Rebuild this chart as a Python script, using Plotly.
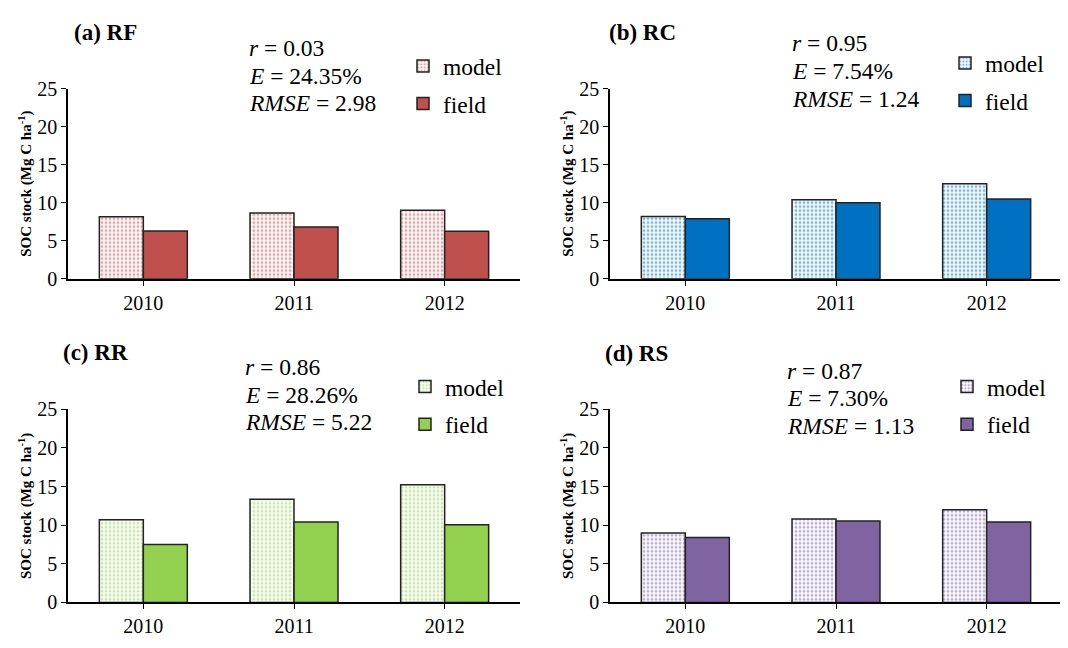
import plotly.graph_objects as go

years = ["2010", "2011", "2012"]

rf_model = [8.15, 8.65, 9.0]
rf_field = [6.3, 6.8, 6.25]
rc_model = [8.2, 10.4, 12.5]
rc_field = [7.9, 10.0, 10.5]
rr_model = [10.7, 13.35, 15.25]
rr_field = [7.5, 10.4, 10.05]
rs_model = [9.0, 10.8, 12.0]
rs_field = [8.4, 10.55, 10.4]

panel_titles = ["(a) RF", "(b) RC", "(c) RR", "(d) RS"]
r_vals = ["0.03", "0.95", "0.86", "0.87"]
e_vals = ["24.35%", "7.54%", "28.26%", "7.30%"]
rmse_vals = ["2.98", "1.24", "5.22", "1.13"]
colors = ["#C0504D", "#0070C0", "#92D050", "#8064A2"]

models = [rf_model, rc_model, rr_model, rs_model]
fields = [rf_field, rc_field, rr_field, rs_field]

SERIF = "Liberation Serif"
W, H = 1068, 648
OFF = 8  # page body margin


def px(x):
    return (x - OFF) / W


def py(y):
    return 1 - (y - OFF) / H


# panel geometry in pixels: (x0, x1, y_top(25), y_bottom(0))
panels = [
    (68, 520, 80, 277),
    (610, 1062, 80, 277),
    (68, 520, 412, 612),
    (610, 1062, 412, 612),
]
title_pos = [(72, 22), (607, 22), (61, 353), (603, 354)]
stats_pos = [(247, 38), (790, 33), (243, 368), (785, 372)]
legend_pos = [(403, 34), (945, 31), (405, 366), (947, 366)]
LINE = 28.7

fig = go.Figure()
layout = dict(
    width=W, height=H,
    paper_bgcolor="white", plot_bgcolor="white",
    margin=dict(l=0, r=0, t=0, b=0),
    barmode="group", bargap=0.416, bargroupgap=0,
    font=dict(family=SERIF, color="black"),
    annotations=[],
)

for i in range(4):
    sfx = "" if i == 0 else str(i + 1)
    xa, ya = "x" + sfx, "y" + sfx
    lg = "legend" + sfx
    col = colors[i]
    fig.add_trace(go.Bar(
        x=years, y=models[i], name="model", xaxis=xa, yaxis=ya, legend=lg,
        legendgroup="m%d" % i,
        marker=dict(color="white", line=dict(color="#222222", width=1.5),
                    pattern=dict(shape=".", fgcolor=col, bgcolor="white",
                                 size=4, solidity=0.45, fillmode="overlay")),
    ))
    fig.add_trace(go.Bar(
        x=years, y=fields[i], name="field", xaxis=xa, yaxis=ya, legend=lg,
        legendgroup="f%d" % i,
        marker=dict(color=col, line=dict(color="#222222", width=1.5)),
    ))

    x0, x1, yt, yb = panels[i]
    layout["xaxis" + sfx] = dict(
        domain=[px(x0), px(x1)], anchor=ya, range=[-0.5, 2.5],
        showline=True, linecolor="black", linewidth=2,
        ticks="outside", ticklen=5, tickcolor="black", tickwidth=1,
        showgrid=False, tickfont=dict(size=20, family=SERIF),
    )
    layout["yaxis" + sfx] = dict(
        domain=[py(yb), py(yt)], anchor=xa, range=[0, 25], dtick=5,
        showline=True, linecolor="black", linewidth=1.5,
        ticks="outside", ticklen=5, tickcolor="black",
        showgrid=False, zeroline=False, tickfont=dict(size=20, family=SERIF),
        title=dict(text="<b>SOC stock (Mg C ha<sup>-1</sup>)</b>",
                   font=dict(size=15, family=SERIF), standoff=2),
    )
    lx, ly = legend_pos[i]
    layout[lg] = dict(
        x=px(lx), y=py(ly), xanchor="left", yanchor="top",
        bgcolor="rgba(0,0,0,0)", font=dict(size=23.5, family=SERIF),
        itemwidth=30, tracegroupgap=4, traceorder="grouped",
    )
    tx, ty = title_pos[i]
    layout["annotations"].append(dict(
        x=px(tx), y=py(ty), xref="paper", yref="paper",
        xanchor="left", yanchor="middle", showarrow=False,
        text="<b>%s</b>" % panel_titles[i], font=dict(size=23, family=SERIF),
    ))
    sx, sy = stats_pos[i]
    lines = ["<i>r</i> = " + r_vals[i],
             "<i>E</i> = " + e_vals[i],
             "<i>RMSE</i> = " + rmse_vals[i]]
    for k, txt in enumerate(lines):
        layout["annotations"].append(dict(
            x=px(sx), y=py(sy + k * LINE), xref="paper", yref="paper",
            xanchor="left", yanchor="middle", align="left", showarrow=False,
            text=txt, font=dict(size=23.5, family=SERIF),
        ))

fig.update_layout(**layout)
fig.write_html("out.html")
